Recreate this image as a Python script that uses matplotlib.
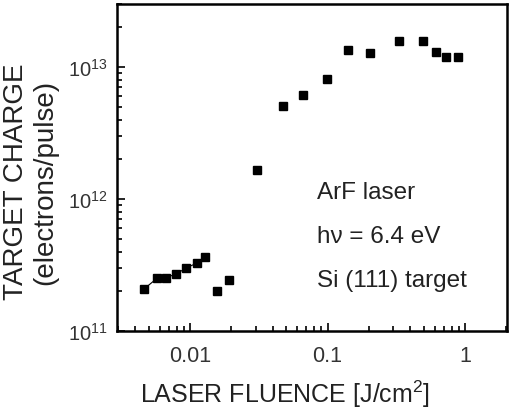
import matplotlib
matplotlib.use("Agg")
import matplotlib.pyplot as plt
from matplotlib.ticker import LogLocator, FixedLocator, FixedFormatter, NullFormatter

plt.rcParams['font.family'] = ['Liberation Sans', 'DejaVu Sans']
plt.rcParams['mathtext.fontset'] = 'custom'
plt.rcParams['mathtext.rm'] = 'Liberation Sans'

# low-fluence series (connected)
fluence_low = [0.00462, 0.00573, 0.00665, 0.00787, 0.0093, 0.0112, 0.01285]
charge_low = [2.08e11, 2.5e11, 2.54e11, 2.69e11, 2.99e11, 3.27e11, 3.65e11]

# remaining points
fluence_high = [0.0157, 0.0193, 0.0305, 0.0472, 0.0667, 0.0992, 0.1416, 0.2037,
                0.333, 0.492, 0.615, 0.727, 0.893]
charge_high = [2.0e11, 2.43e11, 1.67e12, 5.07e12, 6.17e12, 8.1e12, 1.35e13, 1.27e13,
               1.56e13, 1.56e13, 1.31e13, 1.2e13, 1.2e13]

x_ticks = [0.01, 0.1, 1]
x_ticklabels = ['0.01', '0.1', '1']
y_ticks = [1e11, 1e12, 1e13]
y_ticklabels = ['$10^{11}$', '$10^{12}$', '$10^{13}$']

annotations = ['ArF laser', 'hν = 6.4 eV', 'Si (111) target']

W, H = 511, 414
fig = plt.figure(figsize=(W / 100, H / 100), dpi=100)
ax = fig.add_axes([117/W, 1 - 332/H, (507-117)/W, (332-5)/H])

ax.plot(fluence_low, charge_low, color='black', lw=0.8, marker='s', ms=6, mec='black', mfc='black')
ax.plot(fluence_high, charge_high, ls='none', marker='s', ms=6, mec='black', mfc='black')

ax.set_xscale('log')
ax.set_yscale('log')
ax.set_xlim(0.00294, 2.02)
ax.set_ylim(1e11, 3e13)

ax.xaxis.set_major_locator(FixedLocator(x_ticks))
ax.xaxis.set_major_formatter(FixedFormatter(x_ticklabels))
ax.yaxis.set_major_locator(FixedLocator(y_ticks))
ax.yaxis.set_major_formatter(FixedFormatter(y_ticklabels))
ax.xaxis.set_minor_locator(LogLocator(base=10, subs=range(2, 10), numticks=20))
ax.yaxis.set_minor_locator(LogLocator(base=10, subs=range(2, 10), numticks=20))
ax.xaxis.set_minor_formatter(NullFormatter())
ax.yaxis.set_minor_formatter(NullFormatter())

ax.tick_params(which='both', direction='in', top=False, right=False, width=1.2, colors='black')
ax.tick_params(which='major', length=6, pad=8, labelcolor='#333333')
ax.tick_params(axis='x', which='major', labelsize=15.5, pad=10)
ax.tick_params(axis='y', which='major', labelsize=14.5, pad=7)
ax.tick_params(which='minor', length=3.5)
for s in ax.spines.values():
    s.set_linewidth(1.8)

fig.text(285 / W, 1 - 394 / H, 'LASER FLUENCE [J/cm$^2$]', fontsize=18, color='#222222',
         ha='center', va='center')
fig.text(31 / W, 1 - 182 / H, 'TARGET CHARGE\n(electrons/pulse)', fontsize=20, color='#222222',
         ha='center', va='center', rotation=90, linespacing=1.15, multialignment='center')

for i, t in enumerate(annotations):
    ax.text((317 - 117) / 390, (332 - 193 - 44 * i) / 327, t, transform=ax.transAxes,
            fontsize=17.5, va='center', ha='left', color='#222222')

fig.savefig('out.png', dpi=100)
